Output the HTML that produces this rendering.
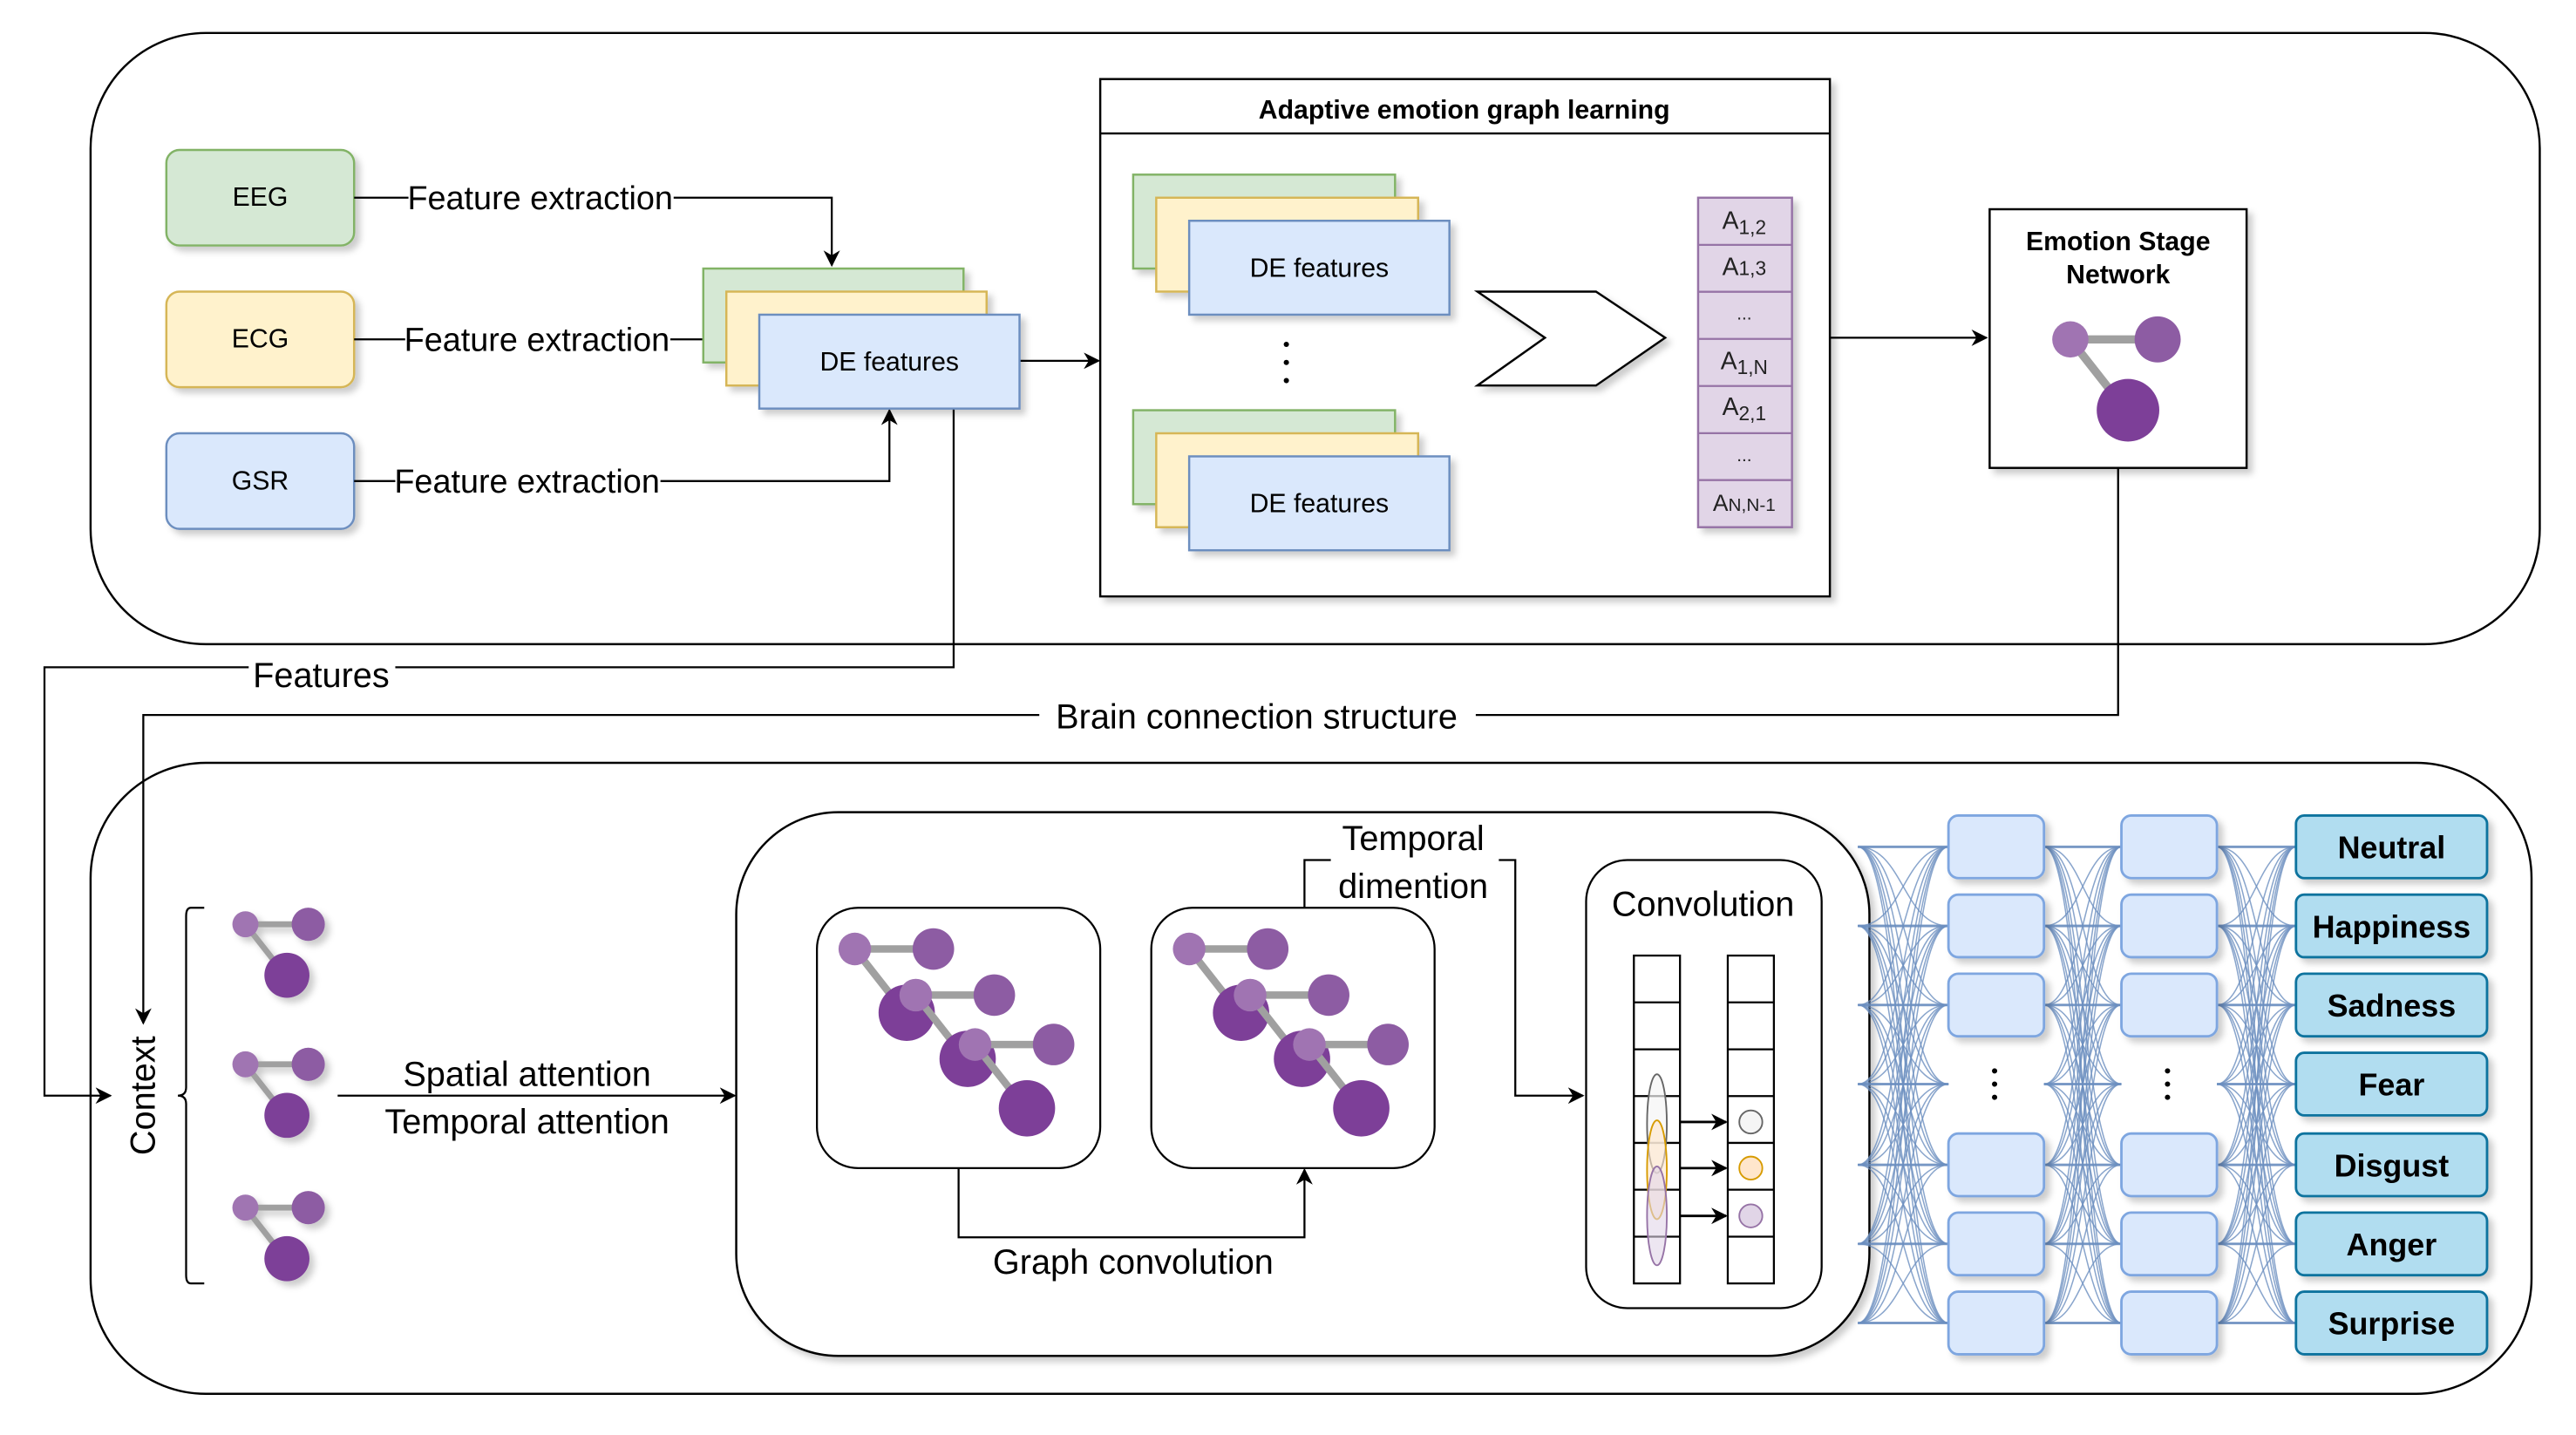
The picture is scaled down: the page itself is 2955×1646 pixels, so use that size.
<!DOCTYPE html>
<html><head><meta charset="utf-8"><style>
html,body{margin:0;padding:0;background:#fff}
svg{display:block}
text{font-family:"Liberation Sans",sans-serif}
</style></head><body>
<svg id="s" width="2955" height="1646" viewBox="0 0 1564 871" preserveAspectRatio="none" xmlns="http://www.w3.org/2000/svg">
<defs>
<marker id="ar" markerWidth="10" markerHeight="10" refX="9" refY="5" orient="auto" markerUnits="userSpaceOnUse"><path d="M0,0 L10,5 L0,10 L3,5 z" fill="#000"/></marker>
<filter id="sh" x="-10%" y="-10%" width="130%" height="130%"><feDropShadow dx="3" dy="3" stdDeviation="2" flood-color="#000" flood-opacity="0.2"/></filter>
</defs>
<!-- top outer -->
<rect x="55" y="20" width="1487" height="371" rx="70" fill="#fff" stroke="#000" stroke-width="1.3"/>
<!-- sources -->
<g font-size="16" text-anchor="middle" filter="url(#sh)">
<rect x="101" y="91" width="114" height="58" rx="8" fill="#d5e8d4" stroke="#82b366" stroke-width="1.3"/>
<rect x="101" y="177" width="114" height="58" rx="8" fill="#fff2cc" stroke="#d6b656" stroke-width="1.3"/>
<rect x="101" y="263" width="114" height="58" rx="8" fill="#dae8fc" stroke="#6c8ebf" stroke-width="1.3"/>
</g>
<g font-size="16" text-anchor="middle">
<text x="158" y="125">EEG</text><text x="158" y="211">ECG</text><text x="158" y="297">GSR</text>
</g>
<!-- feature extraction lines -->
<g stroke="#000" stroke-width="1.2" fill="none">
<path d="M215,120 H505 V161" marker-end="url(#ar)"/>
<path d="M215,206 H440" marker-end="url(#ar)"/>
<path d="M215,292 H540 V249" marker-end="url(#ar)"/>
<path d="M619,219 H667" marker-end="url(#ar)"/>
<path d="M1111,205 H1206" marker-end="url(#ar)"/>
<path d="M579,248 V405 H27 V665 H67" marker-end="url(#ar)"/>
<path d="M1286,284 V434 H87 V621" marker-end="url(#ar)"/>
</g>
<g font-size="20" text-anchor="middle">
<rect x="248" y="108" width="161" height="24" fill="#fff"/><text x="328" y="127">Feature extraction</text>
<rect x="246" y="194" width="161" height="24" fill="#fff"/><text x="326" y="213">Feature extraction</text>
<rect x="240" y="280" width="161" height="24" fill="#fff"/><text x="320" y="299">Feature extraction</text>
<rect x="151" y="397" width="89" height="26" fill="#fff"/><text x="195" y="417" font-size="21">Features</text>
<rect x="631" y="422" width="265" height="26" fill="#fff"/><text x="763" y="442" font-size="21">Brain connection structure</text>
</g>
<!-- DE stack -->
<g filter="url(#sh)" stroke-width="1.3">
<rect x="427" y="163" width="158" height="57" fill="#d5e8d4" stroke="#82b366"/>
<rect x="441" y="177" width="158" height="57" fill="#fff2cc" stroke="#d6b656"/>
<rect x="461" y="191" width="158" height="57" fill="#dae8fc" stroke="#6c8ebf"/>
</g>
<text x="540" y="225" font-size="16" text-anchor="middle">DE features</text>
<!-- adaptive -->
<rect x="668" y="48" width="443" height="314" fill="#fff" stroke="#000" stroke-width="1.3" filter="url(#sh)"/>
<line x1="668" y1="81" x2="1111" y2="81" stroke="#000" stroke-width="1.3"/>
<text x="889" y="72" font-size="16" font-weight="bold" text-anchor="middle">Adaptive emotion graph learning</text>
<g filter="url(#sh)" stroke-width="1.3">
<rect x="688" y="106" width="159" height="57" fill="#d5e8d4" stroke="#82b366"/>
<rect x="702" y="120" width="159" height="57" fill="#fff2cc" stroke="#d6b656"/>
<rect x="722" y="134" width="158" height="57" fill="#dae8fc" stroke="#6c8ebf"/>
<rect x="688" y="249" width="159" height="57" fill="#d5e8d4" stroke="#82b366"/>
<rect x="702" y="263" width="159" height="57" fill="#fff2cc" stroke="#d6b656"/>
<rect x="722" y="277" width="158" height="57" fill="#dae8fc" stroke="#6c8ebf"/>
</g>
<g font-size="16" text-anchor="middle"><text x="801" y="168">DE features</text><text x="801" y="311">DE features</text></g>
<g fill="#000"><circle cx="781" cy="209" r="1.6"/><circle cx="781" cy="220" r="1.6"/><circle cx="781" cy="231" r="1.6"/></g>
<path d="M897,177 L969,177 L1011,205 L969,234 L897,234 L938,205 Z" fill="#fff" stroke="#000" stroke-width="1.3" filter="url(#sh)"/>
<g stroke="#9673a6" stroke-width="1.3" fill="#e1d5e7" filter="url(#sh)">
<rect x="1031" y="120" width="57" height="200"/>
</g>
<g stroke="#9673a6" stroke-width="1.2">
<line x1="1031" y1="148.6" x2="1088" y2="148.6"/><line x1="1031" y1="177.1" x2="1088" y2="177.1"/><line x1="1031" y1="205.7" x2="1088" y2="205.7"/><line x1="1031" y1="234.3" x2="1088" y2="234.3"/><line x1="1031" y1="262.9" x2="1088" y2="262.9"/><line x1="1031" y1="291.4" x2="1088" y2="291.4"/>
</g>
<g font-size="15" text-anchor="middle" fill="#222">
<text x="1059" y="139">A<tspan font-size="12" dy="3">1,2</tspan></text>
<text x="1059" y="167">A<tspan font-size="12">1,3</tspan></text>
<text x="1059" y="194" font-size="11">...</text>
<text x="1059" y="224">A<tspan font-size="12" dy="3">1,N</tspan></text>
<text x="1059" y="252">A<tspan font-size="12" dy="3">2,1</tspan></text>
<text x="1059" y="280" font-size="11">...</text>
<text x="1059" y="310" font-size="14">A<tspan font-size="11">N,N-1</tspan></text>
</g>
<!-- emotion stage network -->
<rect x="1208" y="127" width="156" height="157" fill="#fff" stroke="#000" stroke-width="1.3" filter="url(#sh)"/>
<g font-size="16" font-weight="bold" text-anchor="middle"><text x="1286" y="152">Emotion Stage</text><text x="1286" y="172">Network</text></g>
<g id="gi">
<line x1="1257" y1="206" x2="1310" y2="206" stroke="#a0a0a0" stroke-width="5"/>
<line x1="1257" y1="206" x2="1290" y2="248" stroke="#a0a0a0" stroke-width="5"/>
<circle cx="1257" cy="206" r="11" fill="#a074b2"/>
<circle cx="1310" cy="206" r="14" fill="#8d5ca3"/>
<circle cx="1292" cy="249" r="19" fill="#7d3f98"/>
</g>
<!-- bottom outer -->
<rect x="55" y="463" width="1482" height="383" rx="70" fill="none" stroke="#000" stroke-width="1.3"/>
<text transform="translate(94,665) rotate(-90)" font-size="21" text-anchor="middle">Context</text>
<path d="M124,551 H116 Q113,551 113,556 V660 Q113,665 108,665 Q113,665 113,670 V774 Q113,779 116,779 H124" fill="none" stroke="#000" stroke-width="1.2"/>
<g filter="url(#sh)">
<use href="#gi" transform="translate(149,561) scale(0.72) translate(-1257,-206)"/>
<use href="#gi" transform="translate(149,646) scale(0.72) translate(-1257,-206)"/>
<use href="#gi" transform="translate(149,733) scale(0.72) translate(-1257,-206)"/>
</g>
<line x1="205" y1="665" x2="446" y2="665" stroke="#000" stroke-width="1.2" marker-end="url(#ar)"/>
<g font-size="21" text-anchor="middle"><text x="320" y="659">Spatial attention</text><text x="320" y="688">Temporal attention</text></g>
<!-- inner box -->
<rect x="447" y="493" width="688" height="330" rx="62" fill="#fff" stroke="#000" stroke-width="1.3" filter="url(#sh)"/>
<rect x="496" y="551" width="172" height="158" rx="25" fill="#fff" stroke="#000" stroke-width="1.2"/>
<rect x="699" y="551" width="172" height="158" rx="25" fill="#fff" stroke="#000" stroke-width="1.2"/>
<g id="big">
<use href="#gi" transform="translate(519,576) scale(0.9) translate(-1257,-206)"/>
<use href="#gi" transform="translate(556,604) scale(0.9) translate(-1257,-206)"/>
<use href="#gi" transform="translate(592,634) scale(0.9) translate(-1257,-206)"/>
</g>
<use href="#big" transform="translate(203,0)"/>
<g stroke="#000" stroke-width="1.2" fill="none">
<path d="M582,709 V751 H792 V710" marker-end="url(#ar)"/>
<path d="M792,551 V522 H920 V665 H961" marker-end="url(#ar)"/>
</g>
<rect x="808" y="496" width="102" height="52" fill="#fff"/>
<g font-size="21" text-anchor="middle"><text x="858" y="516">Temporal</text><text x="858" y="545">dimention</text><text x="688" y="773">Graph convolution</text></g>
<!-- convolution -->
<rect x="963" y="522" width="143" height="272" rx="25" fill="#fff" stroke="#000" stroke-width="1.2"/>
<text x="1034" y="556" font-size="21" text-anchor="middle">Convolution</text>
<g fill="none" stroke="#000" stroke-width="1.2">
<rect x="992" y="580" width="28" height="199"/><rect x="1049" y="580" width="28" height="199"/>
<path d="M992,608.4H1020M992,636.9H1020M992,665.3H1020M992,693.7H1020M992,722.1H1020M992,750.6H1020M1049,608.4H1077M1049,636.9H1077M1049,665.3H1077M1049,693.7H1077M1049,722.1H1077M1049,750.6H1077"/>
</g>
<ellipse cx="1006" cy="682" rx="6" ry="30" fill="#f5f5f5" fill-opacity="0.7" stroke="#666" stroke-width="1"/>
<ellipse cx="1006" cy="710" rx="6" ry="30" fill="#ffe6cc" fill-opacity="0.6" stroke="#d79b00" stroke-width="1"/>
<ellipse cx="1006" cy="738" rx="6" ry="30" fill="#e1d5e7" fill-opacity="0.6" stroke="#9673a6" stroke-width="1"/>
<g stroke="#000" stroke-width="1.5"><line x1="1020" y1="681" x2="1048" y2="681" marker-end="url(#ar)"/><line x1="1020" y1="709" x2="1048" y2="709" marker-end="url(#ar)"/><line x1="1020" y1="738" x2="1048" y2="738" marker-end="url(#ar)"/></g>
<circle cx="1063" cy="681" r="7" fill="#f5f5f5" stroke="#666"/>
<circle cx="1063" cy="709" r="7" fill="#ffe6cc" stroke="#d79b00"/>
<circle cx="1063" cy="738" r="7" fill="#e1d5e7" stroke="#9673a6"/>
<!-- dense -->
<g id="conn" fill="none" stroke="#6c8ebf" stroke-width="0.8" stroke-opacity="0.8"></g>
<g id="nodes"></g>
<g fill="#000"><circle cx="1211" cy="650" r="1.6"/><circle cx="1211" cy="658" r="1.6"/><circle cx="1211" cy="666" r="1.6"/><circle cx="1316" cy="650" r="1.6"/><circle cx="1316" cy="658" r="1.6"/><circle cx="1316" cy="666" r="1.6"/></g>
</svg>
<script>
var NS="http://www.w3.org/2000/svg";
var ys=[514,562,610,658,707,755,803];
var conn=document.getElementById('conn'),nodes=document.getElementById('nodes');
function p(d,w){var e=document.createElementNS(NS,'path');e.setAttribute('d',d);if(w)e.setAttribute('stroke-width',w);conn.appendChild(e);}
[[1128,1183],[1241,1288],[1346,1394]].forEach(function(c){
 var a=c[0],b=c[1],m=(a+b)/2;
 ys.forEach(function(y1){ys.forEach(function(y2){p('M'+a+','+y1+' C'+m+','+y1+' '+m+','+y2+' '+b+','+y2);});});
 ys.forEach(function(y){p('M'+a+','+y+' H'+b,1.6);});
});
function r(x,y,w,h,f,s,rx){var e=document.createElementNS(NS,'rect');e.setAttribute('x',x);e.setAttribute('y',y);e.setAttribute('width',w);e.setAttribute('height',h);e.setAttribute('rx',rx);e.setAttribute('fill',f);e.setAttribute('stroke',s);e.setAttribute('stroke-width','1.5');e.setAttribute('filter','url(#sh)');nodes.appendChild(e);}
var labels=['Neutral','Happiness','Sadness','Fear','Disgust','Anger','Surprise'];
ys.forEach(function(y,i){
 if(i!=3){r(1183,y-19,58,38,'#dae8fc','#7ea6e0',6);r(1288,y-19,58,38,'#dae8fc','#7ea6e0',6);}
 r(1394,y-19,116,38,'#b1ddf0','#10739e',5);
 var t=document.createElementNS(NS,'text');t.setAttribute('x',1452);t.setAttribute('y',y+7);t.setAttribute('text-anchor','middle');t.setAttribute('font-size','19');t.setAttribute('font-weight','bold');t.textContent=labels[i];nodes.appendChild(t);
});
</script>
</body></html>
